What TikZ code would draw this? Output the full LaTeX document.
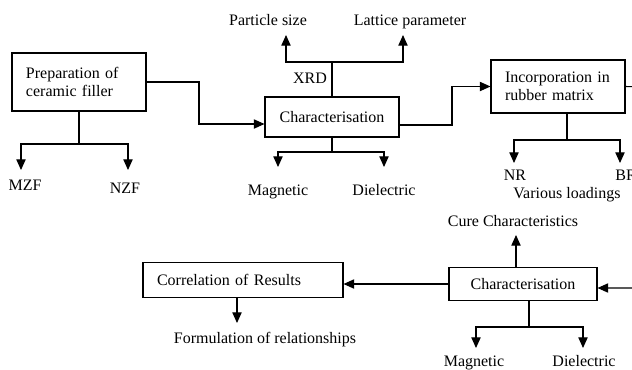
\documentclass[tikz,border=0pt]{standalone}
\usepackage{fontspec}
\setmainfont{Liberation Serif}
\usetikzlibrary{arrows.meta}

\begin{document}
\begin{tikzpicture}[x=0.75pt,y=0.75pt,yscale=-1,xscale=1,line width=0.8pt,
  box/.style={draw,inner ysep=0pt,font=\fontsize{12}{13.5}\selectfont},
  lbl/.style={inner sep=0pt,font=\fontsize{12}{13.5}\selectfont,text height=8pt,text depth=2.5pt},
  arr/.style={-{Triangle[length=8pt,width=7pt]}}]
\useasboundingbox (0,0) rectangle (632,369);
\clip (0,0) rectangle (632,369);

% boxes
\node[box,minimum width=100.5pt,minimum height=43.5pt,inner xsep=10.5pt,text width=79.5pt,align=left] (prep) at (79,82) {Preparation of\\ceramic filler};
\node[box,minimum width=100.5pt,minimum height=30pt] (char1) at (332,117) {Characterisation};
\node[box,minimum width=100.5pt,minimum height=39.75pt,inner xsep=10.5pt,text width=79.5pt,align=left] (incorp) at (558,86.5) {Incorporation in\\rubber matrix};
\node[box,minimum width=111pt,minimum height=24.75pt] (char2) at (523,284) {Characterisation};
\node[box,minimum width=150pt,minimum height=26.25pt,inner xsep=10.5pt,text width=129pt,align=left] (corr) at (243,280) {Correlation of Results};

% labels
\node[lbl] (mzf) at (25,187) {MZF};
\node[lbl] (nzf) at (125,190) {NZF};
\node[lbl] (psize) at (268,22) {Particle size};
\node[lbl] (lpar) at (410,22) {Lattice parameter};
\node[lbl] (xrd) at (310,80) {XRD};
\node[lbl] (mag1) at (278,192) {Magnetic};
\node[lbl] (diel1) at (384,192) {Dielectric};
\node[lbl] (nr) at (515,177) {NR};
\node[lbl] (br) at (626,177) {BR};
\node[lbl] (load) at (567,195) {Various loadings};
\node[lbl] (cure) at (513,223) {Cure Characteristics};
\node[lbl] (form) at (265,340) {Formulation of relationships};
\node[lbl] (mag2) at (474,363) {Magnetic};
\node[lbl] (diel2) at (584,363) {Dielectric};

% bend points and arrow ends
\coordinate (b1) at (199,124);
\coordinate (b2) at (452,125);
\coordinate (r1) at (650,87);
\coordinate (r2) at (650,288);
\coordinate (d1) at (79,144);
\coordinate (mzfa) at (21,170);
\coordinate (nzfa) at (128,170);
\coordinate (t1) at (332,62);
\coordinate (psa) at (286,35);
\coordinate (lpa) at (403,35);
\coordinate (d2) at (332,152);
\coordinate (mag1a) at (278,167);
\coordinate (diel1a) at (384,167);
\coordinate (d3) at (567,140);
\coordinate (nra) at (514,163);
\coordinate (bra) at (620,163);
\coordinate (curea) at (516,235);
\coordinate (d4) at (529,327);
\coordinate (mag2a) at (476,348);
\coordinate (diel2a) at (583,348);
\coordinate (forma) at (237,323);

% main flow
\draw[arr] (prep.east) -| (b1) -- (b1 -| char1.west);
\draw[arr] (b2 -| char1.east) -- (b2) |- (incorp.west);
\draw[arr] (incorp.east) -- (r1) -- (r2) -- (r2 -| char2.east);
\draw[arr] (char2.west) -- (char2.west -| corr.east);

% branches
\draw (prep.south) -- (d1);
\draw[arr] (d1) -| (mzfa);
\draw[arr] (d1) -| (nzfa);

\draw (char1.north) -- (t1);
\draw[arr] (t1) -| (psa);
\draw[arr] (t1) -| (lpa);

\draw (char1.south) -- (d2);
\draw[arr] (d2) -| (mag1a);
\draw[arr] (d2) -| (diel1a);

\draw (d3 |- incorp.south) -- (d3);
\draw[arr] (d3) -| (nra);
\draw[arr] (d3) -| (bra);

\draw[arr] (curea |- char2.north) -- (curea);
\draw (d4 |- char2.south) -- (d4);
\draw[arr] (d4) -| (mag2a);
\draw[arr] (d4) -| (diel2a);

\draw[arr] (forma |- corr.south) -- (forma);

\end{tikzpicture}
\end{document}
